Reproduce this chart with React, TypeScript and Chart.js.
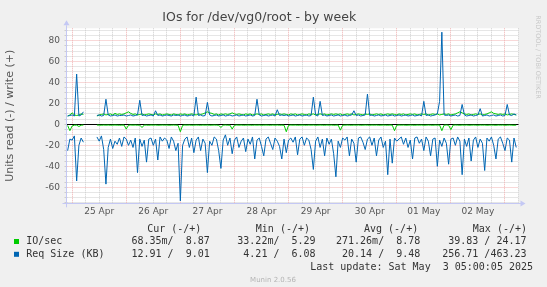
import { useEffect, useRef } from "react";
import { Chart, registerables } from "chart.js";

Chart.register(...registerables);

// ---- data (hours since 25 Apr 00:00, one point per hour) ----
const START_HOUR = -2;
const STEP_HOURS = 1;
const X_MIN = -2.5;
const X_MAX = 198;
const Y_MIN = -75.3;
const Y_MAX = 91.7;

const dayTickHours = [12, 36, 60, 84, 108, 132, 156, 180];
const dayLabels = ["25 Apr", "26 Apr", "27 Apr", "28 Apr", "29 Apr", "30 Apr", "01 May", "02 May"];
const yTickValues = [-60, -40, -20, 0, 20, 40, 60, 80];

const title = "IOs for /dev/vg0/root - by week";
const yTitle = "Units read (-) / write (+)";

// IO/sec write (+)
const ioWrite = [
  8, 9, 11, 9, 8.5, 9, 10, 9.5, null, null, null, null, null, 8, 9, 9.5, 10, 9, 9.5, 10, 9, 10.5, 9.5, 10,
  9.5, 10, 11, 12, 10.5, 9.5, 10, 9, 9.5, 10, 9, 9.5, 10, 9.5, 9, 10, 9.5, 10, 9, 9.5, 10, 9.5, 9, 10,
  9.5, 9, 10, 9.5, 10, 9, 9.5, 10, 9.5, 9, 10, 9.5, 10, 11, 12, 11, 10.5, 9.5, 10, 9, 10, 9.5, 10, 9.5,
  10, 11, 10, 9.5, 10, 9.5, 9, 10, 9.5, 10, 9, 9.5, 10, 9.5, 10, 9, 9.5, 10, 9.5, 10, 9, 9.5, 10, 9.5,
  10, 9.5, 9, 10, 9.5, 10, 9, 9.5, 10, 9.5, 9, 10, 9.5, 10, 9, 9.5, 10, 9.5, 10, 9, 9.5, 10, 9.5, 10,
  9.5, 10, 9, 9.5, 10, 9.5, 10, 9, 9.5, 10, 9.5, 9, 10, 9.5, 10, 9, 9.5, 10, 9.5, 10, 9, 9.5, 10, 9.5,
  10, 9.5, 9, 10, 9.5, 10, 9, 9.5, 10, 9.5, 10, 9, 9.5, 10, 9.5, 10, 9, 9.5, 10, 9.5, 10, 9, 9.5, 10,
  9.5, 10, 9, 9.5, 10, 11, 12, 11, 10, 9.5, 10, 9, 9.5, 10, 9.5, 10, 9, 9.5, 10, 11, 12, 10.5, 10, 9.5,
  10, 9.5, 10, 9, 9.5, 10, 9.5, 9,
];

// IO/sec read (-)
const ioRead = [
  -1, -6, -1.5, -0.8, -0.7, -2, -0.8, -0.6, null, null, null, null, null, -0.6, -0.7, -0.8, -0.6, -0.7, -0.6, -0.8, -0.7, -0.6, -0.7, -0.8,
  -0.7, -0.6, -4.5, -0.8, -0.6, -0.7, -0.6, -0.8, -0.7, -3, -0.6, -0.7, -0.8, -0.6, -0.7, -0.6, -0.8, -0.7, -0.6, -0.7, -0.6, -0.8, -0.7, -0.6,
  -0.7, -0.8, -7, -0.9, -0.6, -0.7, -0.6, -0.8, -0.7, -0.6, -0.7, -0.8, -0.6, -0.7, -0.6, -0.8, -0.7, -0.6, -0.7, -0.8, -3, -0.7, -0.6, -0.8,
  -0.7, -4.5, -0.8, -0.6, -0.7, -0.6, -0.8, -0.7, -0.6, -0.7, -0.8, -0.6, -0.7, -0.6, -0.8, -0.7, -0.6, -0.7, -0.8, -0.6, -0.7, -0.6, -0.8, -0.7,
  -0.8, -7, -0.9, -0.6, -0.7, -0.6, -0.8, -0.7, -0.6, -0.7, -0.8, -0.6, -0.7, -0.6, -0.8, -0.7, -0.6, -0.7, -0.8, -0.6, -0.7, -0.6, -0.8, -0.7,
  -0.6, -5.5, -0.8, -0.7, -0.6, -0.7, -0.8, -0.6, -0.7, -0.6, -0.8, -0.7, -0.6, -0.7, -0.8, -0.6, -0.7, -0.6, -0.8, -0.7, -0.6, -0.7, -0.8, -0.6,
  -0.7, -6, -0.8, -0.6, -0.7, -0.6, -0.8, -0.7, -0.6, -0.7, -0.8, -0.6, -0.7, -0.6, -0.8, -0.7, -0.6, -0.7, -0.8, -0.6, -0.7, -0.6, -6, -0.7,
  -0.6, -0.8, -5, -0.7, -0.6, -0.7, -0.8, -0.6, -0.7, -0.6, -0.8, -0.7, -0.6, -0.7, -0.8, -0.6, -0.7, -0.6, -0.8, -0.7, -0.6, -0.7, -0.8, -0.6,
  -0.7, -0.6, -0.8, -0.7, -0.6, -0.7, -0.8, -0.7,
];

// Req Size (KB) write (+)
const reqWrite = [
  8, 8.5, 9, 8, 48, 8, 9, 12, null, null, null, null, null, 8.5, 9, 8, 8.5, 24, 9, 8, 8.5, 9, 8, 8.5,
  8.5, 9, 8, 8.5, 9, 8, 8.5, 9, 23, 8.5, 9, 8, 8.5, 9, 8, 13, 8.5, 9, 8, 8.5, 9, 8.5, 8, 9,
  8.5, 9, 8, 8.5, 9, 8, 8.5, 9, 8, 26, 8.5, 9, 8, 8.5, 21, 9, 8, 8.5, 9, 8, 8.5, 9, 8, 8.5,
  9, 8, 8.5, 9, 8, 8.5, 9, 8, 8.5, 9, 8, 8.5, 24, 9, 8, 8.5, 9, 8, 8.5, 9, 8, 14, 8.5, 9,
  8.5, 9, 8, 8.5, 9, 8, 8.5, 9, 8, 8.5, 9, 8, 8.5, 26, 9, 8, 22, 8.5, 9, 8, 8.5, 9, 8, 8.5,
  9, 8, 8.5, 9, 8, 8.5, 9, 13, 8.5, 9, 8, 8.5, 9, 29, 8.5, 9, 8, 8.5, 9, 8, 8.5, 9, 8, 8.5,
  9, 8, 8.5, 9, 8, 8.5, 9, 8, 8.5, 9, 8, 8.5, 9, 8, 22, 8.5, 9, 8, 8.5, 9, 10, 22, 88, 9,
  8.5, 9, 8, 8.5, 9, 8, 8.5, 19, 9, 8, 8.5, 9, 8, 8.5, 9, 15, 8, 8.5, 9, 8, 8.5, 9, 8, 8.5,
  9, 8, 8.5, 19, 9, 8.5, 10, 9,
];

// Req Size (KB) read (-)
const reqRead = [
  -25, -14, -15, -11, -54, -20, -13, -17, null, null, null, null, null, -12, -16, -11, -24, -57, -22, -14, -23, -16, -19, -13,
  -21, -12, -14, -20, -15, -22, -13, -46, -14, -21, -15, -36, -14, -13, -20, -14, -34, -12, -16, -13, -15, -23, -12, -16,
  -25, -18, -73, -20, -14, -12, -22, -13, -27, -15, -12, -25, -14, -18, -46, -16, -20, -12, -14, -25, -42, -15, -10, -20,
  -13, -28, -15, -12, -22, -16, -13, -26, -14, -19, -12, -33, -15, -13, -21, -30, -14, -12, -18, -24, -13, -16, -21, -33,
  -14, -27, -15, -13, -17, -12, -29, -14, -12, -20, -13, -15, -24, -43, -16, -12, -22, -14, -30, -13, -19, -14, -28, -50,
  -16, -22, -13, -15, -12, -30, -14, -18, -36, -13, -12, -17, -24, -14, -12, -20, -13, -30, -15, -12, -22, -16, -48, -14,
  -37, -13, -16, -14, -12, -19, -13, -22, -15, -33, -13, -12, -18, -14, -25, -12, -16, -30, -14, -13, -40, -15, -21, -13,
  -18, -38, -14, -13, -20, -12, -16, -48, -14, -21, -13, -35, -15, -12, -22, -14, -18, -44, -13, -16, -12, -20, -33, -14,
  -12, -18, -25, -13, -15, -36, -13, -22,
];

// legend table
const seriesNames = ["IO/sec", "Req Size (KB)"];
const seriesColors = ["#00cc00", "#0066b3"];
const colHeaders = ["Cur (-/+)", "Min (-/+)", "Avg (-/+)", "Max (-/+)"];
const curValues = ["68.35m/  8.87", "12.91 /  9.01"];
const minValues = ["33.22m/  5.29", " 4.21 /  6.08"];
const avgValues = ["271.26m/  8.78", " 20.14 /  9.48"];
const maxValues = ["39.83 / 24.17", "256.71 /463.23"];
const lastUpdate = "Last update: Sat May  3 05:00:05 2025";
const watermark = "RRDTOOL / TOBI OETIKER";
const footer = "Munin 2.0.56";

const toPoints = (arr: (number | null)[]) =>
  arr.map((v, i) => ({ x: START_HOUR + i * STEP_HOURS, y: v }));

const MONO = '"DejaVu Sans Mono", monospace';
const SANS = '"DejaVu Sans", sans-serif';

const rrdPlugin = {
  id: "rrdStyle",
  beforeDraw(chart: any) {
    const { ctx, chartArea: a, width, height } = chart;
    ctx.save();
    ctx.fillStyle = "#f0f0f0";
    ctx.fillRect(0, 0, width, height);
    ctx.fillStyle = "#ffffff";
    ctx.fillRect(a.left, a.top, a.right - a.left, a.bottom - a.top);
    ctx.restore();
  },
  beforeDatasetsDraw(chart: any) {
    const { ctx, chartArea: a, scales } = chart;
    const xs = scales.x;
    const ys = scales.y;
    ctx.save();
    ctx.lineWidth = 1;
    ctx.setLineDash([1, 1]);
    // minor grid
    ctx.strokeStyle = "#cdcdcd";
    ctx.beginPath();
    for (let h = 0; h <= X_MAX; h += 6) {
      if (h % 24 === 0) continue;
      const px = Math.floor(xs.getPixelForValue(h)) + 0.5;
      ctx.moveTo(px, a.top);
      ctx.lineTo(px, a.bottom);
    }
    for (let v = -75; v <= Y_MAX; v += 5) {
      if (v % 20 === 0) continue;
      const py = Math.floor(ys.getPixelForValue(v)) + 0.5;
      ctx.moveTo(a.left, py);
      ctx.lineTo(a.right, py);
    }
    ctx.stroke();
    // left-axis tick marks
    ctx.setLineDash([]);
    ctx.beginPath();
    for (let v = -75; v <= Y_MAX; v += 5) {
      const py = Math.floor(ys.getPixelForValue(v)) + 0.5;
      ctx.moveTo(a.left - 2, py);
      ctx.lineTo(a.left + 1, py);
    }
    ctx.stroke();
    ctx.setLineDash([1, 1]);
    // major grid
    ctx.strokeStyle = "#f0b0b0";
    ctx.beginPath();
    for (let h = 0; h <= X_MAX; h += 24) {
      const px = Math.floor(xs.getPixelForValue(h)) + 0.5;
      ctx.moveTo(px, a.top);
      ctx.lineTo(px, a.bottom);
    }
    for (const v of yTickValues) {
      const py = Math.floor(ys.getPixelForValue(v)) + 0.5;
      ctx.moveTo(a.left, py);
      ctx.lineTo(a.right, py);
    }
    ctx.stroke();
    ctx.setLineDash([]);
    // zero line
    const z = Math.floor(ys.getPixelForValue(0)) + 0.5;
    ctx.strokeStyle = "#000000";
    ctx.beginPath();
    ctx.moveTo(a.left, z);
    ctx.lineTo(a.right, z);
    ctx.stroke();
    ctx.restore();
  },
  afterDatasetsDraw(chart: any) {
    const { ctx, chartArea: a } = chart;
    ctx.save();
    const axisColor = "#c4c8f4";
    ctx.strokeStyle = axisColor;
    ctx.fillStyle = axisColor;
    ctx.lineWidth = 1;
    const lx = Math.floor(a.left) + 0.5;
    const by = Math.floor(a.bottom) + 0.5;
    ctx.beginPath();
    ctx.moveTo(lx, a.bottom + 4);
    ctx.lineTo(lx, a.top - 3);
    ctx.moveTo(a.left - 4, by);
    ctx.lineTo(a.right + 3, by);
    ctx.stroke();
    // arrows
    ctx.beginPath();
    ctx.moveTo(lx - 3, a.top - 3);
    ctx.lineTo(lx + 3, a.top - 3);
    ctx.lineTo(lx, a.top - 8);
    ctx.closePath();
    ctx.fill();
    ctx.beginPath();
    ctx.moveTo(a.right + 2, by - 3);
    ctx.lineTo(a.right + 2, by + 3);
    ctx.lineTo(a.right + 7, by);
    ctx.closePath();
    ctx.fill();
    ctx.restore();
  },
  afterDraw(chart: any) {
    const { ctx } = chart;
    ctx.save();
    // legend table
    ctx.font = `10px ${MONO}`;
    ctx.fillStyle = "#333333";
    ctx.textBaseline = "middle";
    ctx.textAlign = "left";
    const headerX = [147.2, 255.8, 364, 472.8];
    colHeaders.forEach((h, i) => ctx.fillText(h, headerX[i], 229.5));
    const rowY = [241.5, 254.3];
    const colX = [131.5, 237.3, 336, 447.7];
    seriesNames.forEach((name, r) => {
      ctx.fillStyle = seriesColors[r];
      ctx.fillRect(14, rowY[r] - 2.5, 5, 5);
      ctx.fillStyle = "#333333";
      ctx.fillText(name, 26.2, rowY[r]);
      ctx.fillText(curValues[r], colX[0], rowY[r]);
      ctx.fillText(minValues[r], colX[1], rowY[r]);
      ctx.fillText(avgValues[r], colX[2], rowY[r]);
      ctx.textAlign = "right";
      ctx.fillText(maxValues[r], 526.5, rowY[r]);
      ctx.textAlign = "left";
    });
    ctx.textAlign = "right";
    ctx.fillText(lastUpdate, 533, 267);
    // footer
    ctx.textAlign = "center";
    ctx.font = `7px ${SANS}`;
    ctx.fillStyle = "#b4b4b4";
    ctx.fillText(footer, 273, 280);
    // watermark
    ctx.translate(537.5, 57);
    ctx.rotate(Math.PI / 2);
    ctx.font = `6.5px ${SANS}`;
    ctx.fillStyle = "#c8c8c8";
    ctx.fillText(watermark, 0, 0);
    ctx.restore();
  },
};

export default function App() {
  const ref = useRef<HTMLCanvasElement>(null);
  useEffect(() => {
    document.body.style.margin = "0";
    const chart = new Chart(ref.current as HTMLCanvasElement, {
      type: "line",
      data: {
        datasets: [
          { label: "Req Size read", data: toPoints(reqRead), borderColor: "#0066b3", order: 0 },
          { label: "Req Size write", data: toPoints(reqWrite), borderColor: "#0066b3", order: 0 },
          { label: "IO/sec read", data: toPoints(ioRead), borderColor: "#00cc00", order: 1 },
          { label: "IO/sec write", data: toPoints(ioWrite), borderColor: "#00cc00", order: 1 },
        ] as any,
      },
      options: {
        animation: false,
        responsive: false,
        devicePixelRatio: 1,
        spanGaps: false,
        elements: {
          point: { radius: 0 },
          line: { borderWidth: 1, tension: 0, fill: false },
        },
        layout: { padding: { top: 0, left: 0, right: 28.5, bottom: 63.7 } },
        plugins: {
          legend: { display: false },
          tooltip: { enabled: false },
          title: {
            display: true,
            text: title,
            color: "#444444",
            font: { family: SANS, size: 12.5, weight: "normal" as any },
            padding: { top: 10, bottom: 3.3 },
          },
        },
        scales: {
          x: {
            type: "linear",
            min: X_MIN,
            max: X_MAX,
            grid: { display: false, drawTicks: false, tickLength: 0 },
            border: { display: false },
            afterBuildTicks: (s: any) => {
              s.ticks = dayTickHours.map((v) => ({ value: v }));
            },
            afterFit: (s: any) => {
              s.height = 20;
            },
            ticks: {
              autoSkip: false,
              maxRotation: 0,
              minRotation: 0,
              padding: 3.3,
              color: "#555555",
              font: { family: SANS, size: 9 },
              callback: (_v: any, i: number) => dayLabels[i],
            },
          },
          y: {
            type: "linear",
            min: Y_MIN,
            max: Y_MAX,
            grid: { display: false, drawTicks: false, tickLength: 0 },
            border: { display: false },
            afterBuildTicks: (s: any) => {
              s.ticks = yTickValues.map((v) => ({ value: v }));
            },
            afterFit: (s: any) => {
              s.width = 66.5;
            },
            title: {
              display: true,
              text: yTitle,
              color: "#555555",
              font: { family: SANS, size: 11 },
              padding: { top: 3.4, bottom: 0 },
            },
            ticks: {
              padding: 6.5,
              color: "#555555",
              font: { family: SANS, size: 9 },
              callback: (v: any) => String(v),
            },
          },
        },
      },
      plugins: [rrdPlugin as any],
    });
    return () => chart.destroy();
  }, []);
  return (
    <div style={{ position: "absolute", left: 0, top: 0, width: 547, height: 287, background: "#f0f0f0" }}>
      <canvas ref={ref} width={547} height={287} style={{ display: "block", width: 547, height: 287 }} />
    </div>
  );
}
